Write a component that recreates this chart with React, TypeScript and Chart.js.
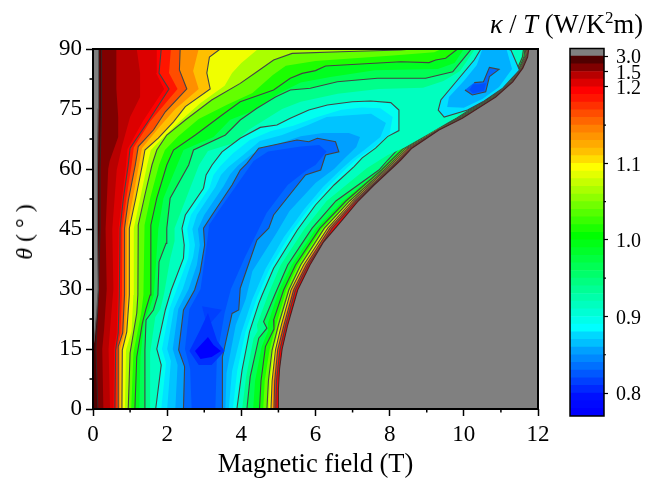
import React, { useEffect, useRef } from "react";
import { Chart, registerables } from "chart.js";

Chart.register(...registerables);

type P = [number, number];

// Iso-level outlines of kappa/T: [field (T), angle (deg)]
const level30: P[] = [[0, 0], [12, 0], [12, 90], [0, 90]];
const level20: P[] = [[0.13, 0], [0.08, 15], [0.15, 30], [0.19, 45], [0.19, 60], [0.23, 75], [0.23, 90], [12, 90], [12, 0]];
const level15: P[] = [[0.28, 0], [0.25, 15], [0.3, 20], [0.37, 30], [0.34, 45], [0.41, 60], [0.45, 62], [0.68, 68], [0.68, 73], [0.63, 80], [0.63, 90], [12, 90], [12, 0]];
const level13: P[] = [[0.46, 0], [0.42, 15], [0.46, 20], [0.55, 30], [0.52, 45], [0.64, 59.75], [0.78, 65.6], [1.0, 73], [1.27, 78], [1.27, 84], [1.18, 90], [12, 90], [12, 0]];
const level121: P[] = [[0.55, 0], [0.57, 15], [0.64, 19], [0.67, 28.5], [0.69, 45], [0.78, 52.7], [0.88, 60], [0.93, 65], [1.35, 72], [1.92, 80], [1.7, 84], [1.72, 90], [12, 90], [12, 0]];
const level120: P[] = [[0.59, 0], [0.61, 14.75], [0.68, 19], [0.71, 28.5], [0.73, 45.2], [0.82, 52.7], [0.95, 61], [1.0, 65.2], [1.48, 71.8], [2.05, 80], [1.78, 84], [1.84, 90], [11.73, 90], [11.7, 88], [11.57, 85.2], [11.3, 81.8], [10.84, 78], [9.94, 72.7], [9.31, 69.75], [8.58, 65.2], [8.26, 62.25], [7.98, 59.75], [7.1, 52], [6.45, 45.2], [5.8, 36], [5.46, 29.75], [5.2, 21], [5.04, 14.75], [4.95, 7], [4.93, 0]];
const level1175: P[] = [[0.63, 0], [0.64, 14.75], [0.74, 19], [0.78, 28.5], [0.79, 45.2], [0.9, 52.7], [1.04, 61], [1.1, 65.4], [1.55, 72], [2.28, 80], [2.05, 84], [2.1, 90], [11.725, 90], [11.69, 88], [11.56, 85.2], [11.29, 81.8], [10.83, 78], [9.93, 72.7], [9.3, 69.8], [8.54, 65.2], [8.24, 62.25], [7.96, 59.75], [7.07, 52], [6.42, 45.2], [5.77, 36], [5.43, 29.75], [5.17, 21], [5.01, 14.75], [4.92, 7], [4.9, 0]];
const level115: P[] = [[0.68, 0], [0.68, 15.6], [0.8, 19], [0.85, 28.5], [0.85, 45.2], [0.95, 52], [1.14, 61], [1.22, 65.6], [1.63, 69.75], [1.95, 74.3], [2.53, 80], [2.33, 84.75], [2.35, 90], [11.71, 90], [11.68, 88], [11.55, 85.2], [11.28, 81.8], [10.82, 78], [9.92, 72.7], [9.29, 69.8], [8.52, 65.2], [8.22, 62.25], [7.94, 59.75], [7.05, 52], [6.39, 45.2], [5.75, 36], [5.41, 29.75], [5.15, 21], [4.98, 14.75], [4.9, 7], [4.88, 0]];
const level1125: P[] = [[0.73, 0], [0.73, 15], [0.86, 19.3], [0.92, 28.5], [0.92, 45.2], [1.06, 52], [1.24, 61], [1.32, 65.2], [1.79, 70.5], [2.22, 75], [2.85, 80], [2.7, 84.5], [2.85, 90], [11.7, 90], [11.67, 88], [11.54, 85.2], [11.27, 81.8], [10.81, 78], [9.91, 72.7], [9.28, 69.8], [8.5, 65.2], [8.2, 62.25], [7.92, 59.75], [7.02, 52], [6.36, 45.2], [5.71, 36], [5.37, 29.75], [5.11, 21], [4.95, 14.75], [4.86, 7], [4.84, 0]];
const level110: P[] = [[0.78, 0], [0.79, 14.75], [0.91, 19.3], [0.98, 28.5], [0.98, 45.2], [1.16, 53], [1.33, 61], [1.4, 64.75], [1.76, 67.7], [2.17, 71.8], [2.49, 75.6], [3.16, 80], [3.07, 84], [3.14, 88], [3.43, 90], [11.69, 90], [11.66, 88], [11.53, 85.2], [11.26, 81.8], [10.8, 78], [9.9, 72.7], [9.28, 69.8], [8.48, 65.2], [8.17, 62.25], [7.89, 59.75], [6.99, 52], [6.33, 45.2], [5.68, 36], [5.34, 29.75], [5.08, 21], [4.92, 14.75], [4.83, 7], [4.8, 0]];
const level1075: P[] = [[0.86, 0], [0.89, 14.75], [1.04, 19.5], [1.09, 28.5], [1.1, 45.2], [1.28, 53], [1.46, 61], [1.56, 64.75], [1.9, 68], [2.35, 72], [2.9, 76.5], [3.55, 80.8], [3.75, 84], [4.0, 86.5], [4.45, 90], [11.68, 90], [11.65, 88], [11.52, 85.2], [11.25, 81.8], [10.79, 78], [9.89, 72.7], [9.27, 69.9], [8.46, 65.2], [8.15, 62.25], [7.87, 59.75], [6.95, 52], [6.29, 45.2], [5.64, 36], [5.31, 29.75], [5.04, 21], [4.88, 14.75], [4.78, 7], [4.75, 0]];
const level105: P[] = [[0.95, 0], [1.0, 14], [1.18, 24], [1.21, 28.5], [1.22, 46], [1.4, 53.5], [1.59, 61], [1.72, 64.75], [1.99, 68.5], [2.49, 72.25], [3.2, 77.25], [3.97, 81.4], [4.42, 84.3], [4.87, 87.25], [5.37, 88.9], [6.68, 89.3], [8.3, 89.75], [8.6, 90], [11.67, 90], [11.64, 88], [11.51, 85.2], [11.24, 81.8], [10.78, 78], [9.88, 72.7], [9.26, 70], [8.44, 65.2], [8.12, 62.25], [7.85, 59.75], [6.92, 52], [6.24, 45.2], [5.6, 36], [5.28, 29.75], [5.0, 21], [4.83, 14.75], [4.73, 7], [4.69, 0]];
const level1025: P[] = [[1.03, 0], [1.09, 14], [1.3, 24], [1.36, 28.5], [1.39, 46], [1.55, 53], [1.78, 61], [1.94, 64.75], [2.3, 68.2], [2.85, 72.5], [3.6, 76], [4.3, 79], [4.85, 83.5], [5.2, 85.8], [6.0, 87], [8.0, 88.3], [9.2, 89.2], [9.4, 90], [11.66, 90], [11.63, 88], [11.5, 85.2], [11.22, 81.8], [10.76, 78], [9.86, 72.7], [9.25, 70], [8.41, 65.2], [8.09, 62.25], [7.81, 59.75], [6.87, 52], [6.18, 45.2], [5.53, 36], [5.21, 29.75], [4.94, 21], [4.76, 14.75], [4.63, 7], [4.59, 0]];
const level100: P[] = [[1.13, 0], [1.18, 13], [1.33, 21.4], [1.42, 24.75], [1.54, 28.5], [1.56, 46], [1.72, 52.7], [1.99, 61], [2.17, 64.75], [2.76, 68.5], [3.48, 73.5], [3.97, 76.8], [4.87, 79.75], [5.32, 82.7], [5.64, 83.9], [6, 84.6], [6.27, 85.75], [8.3, 86.8], [9.06, 86.6], [9.24, 87.25], [9.51, 87.7], [9.83, 90], [11.65, 90], [11.62, 88], [11.49, 85.2], [11.2, 81.8], [10.74, 78], [9.84, 72.7], [9.24, 70], [8.38, 65.2], [8.05, 62.25], [7.78, 59.75], [6.82, 52], [6.12, 45.2], [5.46, 36], [5.14, 29.75], [4.87, 22.25], [4.88, 20], [4.65, 15.6], [4.53, 7], [4.49, 0]];
const level0975: P[] = [[1.25, 0], [1.28, 13], [1.38, 22], [1.52, 25], [1.64, 28.5], [1.76, 45], [1.9, 52.7], [2.27, 61], [2.44, 64.75], [3.25, 68], [3.7, 72.3], [4.3, 74.5], [5.0, 78.8], [5.6, 81.6], [6.4, 83], [7.6, 84.7], [8.6, 84.9], [9.3, 85], [9.75, 86.5], [10.0, 90], [11.63, 90], [11.6, 88], [11.47, 85.2], [11.18, 81.8], [10.72, 78], [9.82, 72.7], [9.22, 70], [8.32, 65.2], [8.0, 62.25], [7.74, 59.75], [6.74, 52], [6.02, 45.2], [5.36, 36], [5.02, 29.75], [4.72, 21.5], [4.72, 19.5], [4.55, 15.6], [4.37, 7], [4.32, 0]];
const level095: P[] = [[1.39, 0], [1.4, 14.75], [1.43, 22.25], [1.63, 24.75], [1.75, 28.5], [1.78, 36.8], [1.97, 41.4], [1.99, 45.2], [2.08, 52.7], [2.58, 61], [2.71, 64.75], [3.57, 68.5], [3.97, 72.25], [4.42, 75.2], [4.92, 78], [5.32, 79.75], [5.86, 80.2], [6.59, 81.8], [7.67, 82.7], [8.97, 82.7], [9.7, 84.3], [10.14, 89.3], [10.2, 90], [11.61, 90], [11.58, 88], [11.45, 85.2], [11.16, 81.8], [10.7, 78], [9.8, 72.7], [9.2, 69.9], [9.02, 69.3], [8.43, 66.4], [8.25, 65.2], [7.95, 62.25], [7.71, 59.75], [6.55, 52], [5.91, 45.2], [5.25, 36], [4.9, 28.5], [4.6, 21.8], [4.69, 20.2], [4.47, 17.7], [4.24, 8.1], [4.15, 0]];
const level0925: P[] = [[1.54, 0], [1.54, 14], [1.68, 23], [1.82, 25], [1.92, 29], [2.08, 37.5], [2.2, 42], [2.2, 45.2], [2.4, 50], [2.86, 61], [3.1, 64.5], [3.8, 66.5], [4.2, 69.8], [4.7, 72.7], [5.1, 75], [5.6, 76.8], [6.6, 78.8], [7.7, 80], [8.9, 80.3], [9.45, 82], [9.9, 84.5], [10.3, 90], [11.58, 90], [11.55, 88], [11.42, 85.2], [11.12, 81.8], [10.65, 78], [9.76, 72.7], [9.05, 68.8], [8.4, 65.4], [7.95, 63.5], [7.38, 60.2], [6.3, 52], [5.7, 45], [5.06, 36], [4.72, 28.5], [4.42, 21], [4.44, 19.5], [4.33, 17.7], [4.13, 8.1], [4.02, 0]];
const level090: P[] = [[1.69, 0], [1.84, 11], [1.72, 15], [1.95, 24.75], [2.11, 29.75], [2.44, 37.7], [2.46, 41], [2.4, 45.2], [2.49, 48.5], [2.98, 55.2], [3.05, 58.5], [3.21, 61], [3.48, 64.3], [3.97, 67.7], [4.51, 70.4], [4.96, 71], [5.32, 72.7], [5.82, 74.75], [6.32, 76], [6.99, 76.8], [7.49, 77], [8.03, 76.6], [8.25, 74.75], [8.25, 69.6], [7.94, 68.1], [7.62, 65.2], [7.26, 62.8], [7.04, 60.6], [6.5, 56], [6, 51], [5.51, 44.75], [4.87, 35.2], [4.56, 28.5], [4.47, 26.4], [4.22, 19.3], [4.02, 9.75], [3.88, 0]];
const pocket090: P[] = [[10.46, 90], [10.28, 87.25], [9.83, 82.25], [9.38, 77.25], [9.31, 74.75], [9.47, 73], [10.1, 74.75], [10.55, 77], [11.05, 80.2], [11.5, 84.75], [11.27, 89.75], [11.25, 90]];
const level0888: P[] = [[1.84, 0], [1.97, 11.5], [1.86, 15], [2.06, 25], [2.26, 30], [2.57, 37.8], [2.6, 41], [2.54, 45], [2.64, 48.5], [3.14, 55.3], [3.25, 58.5], [3.43, 60.7], [3.77, 63.9], [4.24, 67.3], [4.8, 69.5], [5.4, 70.8], [6.05, 73], [6.7, 74.8], [7.25, 75.4], [7.75, 75.2], [8.08, 73], [8.0, 68.8], [7.55, 65.2], [7.13, 62.6], [6.85, 60.3], [6.35, 55.7], [5.85, 50.5], [5.33, 43.9], [4.76, 35], [4.43, 28], [4.11, 19.2], [3.89, 9.6], [3.77, 0]];
const level0875: P[] = [[2.0, 0], [2.1, 12], [2.0, 15], [2.18, 25], [2.42, 30], [2.7, 38], [2.75, 41], [2.68, 45], [2.8, 48.5], [3.3, 55.5], [3.45, 58.5], [3.65, 60.5], [4.05, 63.5], [4.5, 67], [5.1, 68.5], [5.8, 71], [6.3, 73], [7, 73.5], [7.5, 73.8], [7.9, 71.5], [7.75, 68], [7.35, 65], [7, 62.5], [6.7, 60], [6.2, 55.5], [5.7, 50], [5.15, 43], [4.65, 35], [4.3, 27.5], [4.0, 19], [3.75, 9.5], [3.66, 0]];
const pocket0875: P[] = [[10.5, 90], [10.35, 86], [10.0, 82], [9.6, 78], [9.55, 75.5], [10.0, 75.3], [10.5, 77.5], [10.95, 80.5], [11.3, 85], [11.15, 90]];
const level0862: P[] = [[2.22, 0], [2.28, 11], [2.15, 15], [2.3, 25], [2.58, 30], [2.8, 36], [2.88, 41], [2.83, 45], [3.0, 48.5], [3.52, 55.7], [3.7, 58.7], [3.9, 60.8], [4.3, 63.8], [5.0, 66.3], [5.6, 68.2], [6.2, 69], [6.9, 69], [7.2, 68], [7.1, 65.5], [6.8, 62.8], [6.5, 60], [6.0, 56.5], [5.3, 49.5], [4.95, 44], [4.3, 34.5], [4.12, 27.5], [3.85, 21], [3.6, 9], [3.57, 0]];
const level085: P[] = [[2.44, 0], [2.47, 10.6], [2.31, 14.75], [2.44, 24.75], [2.74, 29.75], [2.89, 34.3], [3.01, 41], [2.98, 45.2], [3.21, 48.5], [3.75, 56], [3.97, 59.75], [4.15, 61.4], [4.47, 65.2], [5.5, 67.25], [5.82, 66.8], [6.05, 67.7], [6.54, 66.8], [6.63, 64.3], [6.27, 63.5], [6.14, 59.75], [5.73, 58.5], [4.87, 48.5], [4.74, 45.2], [4.42, 42.25], [3.97, 30.2], [3.93, 24.75], [3.75, 23.9], [3.49, 13], [3.49, 0]];
const pocket085: P[] = [[10.03, 79.75], [10.23, 78.5], [10.59, 79.3], [10.69, 83.1], [10.95, 84.9], [10.69, 85.4], [10.53, 81.8], [10.28, 81.6]];
const level0825: P[] = [[2.66, 0], [2.62, 10], [2.48, 15], [2.6, 25], [2.9, 30], [3.08, 42], [3.13, 46], [3.42, 50], [3.95, 57], [4.33, 62], [4.72, 64.4], [5.6, 65.6], [6.1, 66], [6.3, 64.4], [6.0, 61], [5.76, 59.7], [5.25, 56], [4.68, 49], [4.42, 44], [4.1, 38], [3.72, 30], [3.55, 24], [3.34, 13], [3.3, 0]];
const pocket0825: P[] = [[10.15, 79.8], [10.25, 78.9], [10.55, 79.6], [10.6, 81.5], [10.4, 81.2], [10.25, 81.2]];
const level080a: P[] = [[2.94, 25.7], [3.48, 24.8], [3.08, 20.5]];
const level080b: P[] = [[2.6, 14.5], [2.9, 20], [3.1, 24], [3.35, 17], [3.55, 14.5], [3.2, 11], [2.85, 11]];
const level078: P[] = [[2.75, 14.5], [3.0, 17], [3.1, 18], [3.25, 16], [3.45, 14.5], [3.2, 13], [2.9, 12.5]];
const edgeWedge: P[] = [[0, 16], [0.03, 17], [0.1, 24], [0.14, 30], [0.12, 45], [0.12, 60], [0.14, 75], [0.15, 90], [0, 90]];
const gappedRegion: P[] = [[4.99, 0], [5.0, 5], [5.03, 10], [5.1, 15], [5.25, 21], [5.52, 29.75], [5.85, 36], [6.22, 41.8], [6.68, 46.8], [7.13, 51.8], [7.58, 56], [8.16, 61], [8.3, 62.25], [8.6, 65.2], [9.33, 69.75], [9.96, 72.7], [10.86, 78], [11.32, 81.8], [11.59, 85.2], [11.72, 88], [11.75, 90], [12, 90], [12, 0]];

// Colour-bar bands from bottom to top (one band per step of the bar's scale)
const barColors = [
  "#0000ff", "#0008ff", "#0010ff", "#0028ff", "#0040ff", "#0058ff", "#0070ff", "#0088ff", "#00a0ff", "#00c0ff", "#00d8ff",
  "#00ffff", "#00ffea", "#00ffd4", "#00ffbf", "#00ffaa", "#00ff95", "#00ff80", "#00ff6a", "#00ff55", "#00ff40", "#00ff2a", "#00ff15",
  "#00ff00", "#1cff00", "#39ff00", "#55ff00", "#71ff00", "#8eff00", "#aaff00", "#c6ff00", "#e3ff00", "#ffff00",
  "#ffdd00", "#ffc000", "#ffaa00", "#ff9500", "#ff8000", "#ff6600", "#ff4d00", "#ff3000", "#ff1500", "#ff0000",
  "#dd0000", "#b80000", "#800000", "#500000", "#808080",
];
const barStep = 1;
const barMajorPositions = [3, 13, 23, 33, 43, 45, 47];
const barMajorLabels = ["0.8", "0.9", "1.0", "1.1", "1.2", "1.5", "3.0"];
const barMinorPositions = [8, 18, 28, 38];

const fieldMinorTicks = [1, 3, 5, 7, 9, 11];
const angleMinorTicks = [7.5, 22.5, 37.5, 52.5, 67.5, 82.5];

const LINE = "#444444";
const layers: { pts: P[]; fill: string; stroke?: string }[] = [
  { pts: level30, fill: "#500000" },
  { pts: level20, fill: "#800000", stroke: "#3a2020" },
  { pts: level15, fill: "#b80000" },
  { pts: level13, fill: "#dd0000" },
  { pts: level121, fill: "#ff0000" },
  { pts: level120, fill: "#ff1500", stroke: LINE },
  { pts: level1175, fill: "#ff4d00" },
  { pts: level115, fill: "#ff8f00", stroke: LINE },
  { pts: level1125, fill: "#ffc000" },
  { pts: level110, fill: "#f0ff00", stroke: LINE },
  { pts: level1075, fill: "#aaff00" },
  { pts: level105, fill: "#63ff00", stroke: LINE },
  { pts: level1025, fill: "#1cff00" },
  { pts: level100, fill: "#00ff20", stroke: LINE },
  { pts: level0975, fill: "#00ff55" },
  { pts: level095, fill: "#00ff8a", stroke: LINE },
  { pts: level0925, fill: "#00ffbf" },
  { pts: level090, fill: "#00fff0", stroke: LINE },
  { pts: pocket090, fill: "#00e0ff", stroke: LINE },
  { pts: level0888, fill: "#00e4ff" },
  { pts: level0875, fill: "#00c4ff" },
  { pts: pocket0875, fill: "#00b0ff" },
  { pts: level0862, fill: "#00a0ff" },
  { pts: level085, fill: "#0068ff", stroke: LINE },
  { pts: pocket085, fill: "#0068ff", stroke: LINE },
  { pts: level0825, fill: "#0050ff" },
  { pts: pocket0825, fill: "#0050ff" },
  { pts: level080a, fill: "#0040ff" },
  { pts: level080b, fill: "#0030ff" },
  { pts: level078, fill: "#0000ff" },
  { pts: edgeWedge, fill: "#808080", stroke: "#555555" },
  { pts: gappedRegion, fill: "#808080", stroke: "#4a2020" },
];

const SERIF = "'Liberation Serif', 'Times New Roman', serif";

const framePlugin = {
  id: "frameAndMinorTicks",
  afterDraw(chart: any, _a: any, opts: any) {
    const { ctx, chartArea: a, scales } = chart;
    ctx.save();
    ctx.strokeStyle = "#000";
    ctx.lineWidth = opts.frame;
    ctx.strokeRect(a.left, a.top, a.right - a.left, a.bottom - a.top);
    ctx.lineWidth = opts.tick;
    ctx.beginPath();
    (opts.x || []).forEach((v: number) => {
      const p = scales.x.getPixelForValue(v);
      ctx.moveTo(p, a.bottom);
      ctx.lineTo(p, a.bottom + opts.len);
    });
    (opts.yLeft || []).forEach((v: number) => {
      const p = scales.y.getPixelForValue(v);
      ctx.moveTo(a.left, p);
      ctx.lineTo(a.left - opts.len, p);
    });
    (opts.yRight || []).forEach((v: number) => {
      const p = scales.y.getPixelForValue(v);
      ctx.moveTo(a.right, p);
      ctx.lineTo(a.right + opts.len, p);
    });
    ctx.stroke();
    ctx.restore();
  },
};

export default function App() {
  const mainRef = useRef<HTMLCanvasElement>(null);
  const barRef = useRef<HTMLCanvasElement>(null);

  useEffect(() => {
    const main = new Chart(mainRef.current!, {
      type: "scatter",
      data: {
        datasets: layers.map((l, i) => ({
          data: l.pts.map(([x, y]) => ({ x, y })),
          showLine: true,
          fill: "shape",
          backgroundColor: l.fill,
          borderColor: l.stroke || l.fill,
          borderWidth: l.stroke ? 1.1 : 0,
          pointRadius: 0,
          tension: 0,
          order: layers.length - i,
        })),
      } as any,
      options: {
        animation: false,
        responsive: false,
        events: [],
        layout: { padding: { left: 0, top: 49, right: 110, bottom: 0 } },
        plugins: {
          legend: { display: false },
          tooltip: { enabled: false },
          frameAndMinorTicks: { frame: 2, tick: 1.5, len: 3.5, x: fieldMinorTicks, yLeft: angleMinorTicks },
        } as any,
        scales: {
          x: {
            type: "linear",
            min: 0,
            max: 12,
            afterFit: (s: any) => { s.height = 69; },
            ticks: { stepSize: 2, color: "#000", padding: 5, maxRotation: 0, font: { family: SERIF, size: 23 } },
            grid: { drawOnChartArea: false, tickLength: 7, tickColor: "#000", tickWidth: 1.5 },
            border: { display: false },
            title: { display: true, text: "Magnetic field (T)", color: "#000", padding: { top: 3, bottom: 0 }, font: { family: SERIF, size: 26.5, lineHeight: 1 } },
          },
          y: {
            type: "linear",
            min: 0,
            max: 90,
            afterFit: (s: any) => { s.width = 93; },
            ticks: { stepSize: 15, color: "#000", padding: 4, font: { family: SERIF, size: 23 } },
            grid: { drawOnChartArea: false, tickLength: 7, tickColor: "#000", tickWidth: 1.5 },
            border: { display: false },
          },
        },
      } as any,
      plugins: [framePlugin],
    });

    const bar = new Chart(barRef.current!, {
      type: "bar",
      data: {
        labels: [""],
        datasets: barColors.map((c) => ({
          data: [barStep],
          backgroundColor: c,
          borderWidth: 0,
          barPercentage: 1,
          categoryPercentage: 1,
          stack: "bar",
        })),
      },
      options: {
        animation: false,
        responsive: false,
        events: [],
        layout: { padding: { left: 30, top: 48.5, right: 0, bottom: 62 } },
        plugins: {
          legend: { display: false },
          tooltip: { enabled: false },
          frameAndMinorTicks: { frame: 1.5, tick: 1.2, len: 2, yRight: barMinorPositions },
        } as any,
        scales: {
          x: { stacked: true, display: false },
          y: {
            stacked: true,
            position: "right",
            min: 0,
            max: barColors.length,
            afterFit: (s: any) => { s.width = 44; },
            afterBuildTicks: (s: any) => { s.ticks = barMajorPositions.map((value) => ({ value })); },
            ticks: {
              autoSkip: false,
              color: "#000",
              padding: 8,
              font: { family: SERIF, size: 20, lineHeight: "4px" },
              callback: (v: any) => ["", barMajorLabels[barMajorPositions.indexOf(Number(v))]],
            },
            grid: { drawOnChartArea: false, tickLength: 4, tickColor: "#000", tickWidth: 1.2 },
            border: { display: false },
          },
        },
      } as any,
      plugins: [framePlugin],
    });

    return () => {
      main.destroy();
      bar.destroy();
    };
  }, []);

  return (
    <div style={{ position: "fixed", left: 0, top: 0, width: 648, height: 478, background: "#fff", overflow: "hidden", fontFamily: SERIF, color: "#000" }}>
      <canvas ref={mainRef} width={648} height={478} style={{ position: "absolute", left: 0, top: 0 }} />
      <canvas ref={barRef} width={108} height={478} style={{ position: "absolute", left: 540, top: 0 }} />
      <div style={{ position: "absolute", left: 490, top: 9, fontSize: 26.5, whiteSpace: "nowrap", lineHeight: "30px" }}>
        <i>κ</i> / <i>T</i> (W/K<sup style={{ fontSize: 17, lineHeight: 0 }}>2</sup>m)
      </div>
      <div style={{ position: "absolute", left: 24, top: 232, fontSize: 24, whiteSpace: "nowrap", lineHeight: "28px", transform: "translate(-50%,-50%) rotate(-90deg)" }}>
        <i>θ</i> ( ° )
      </div>
    </div>
  );
}
